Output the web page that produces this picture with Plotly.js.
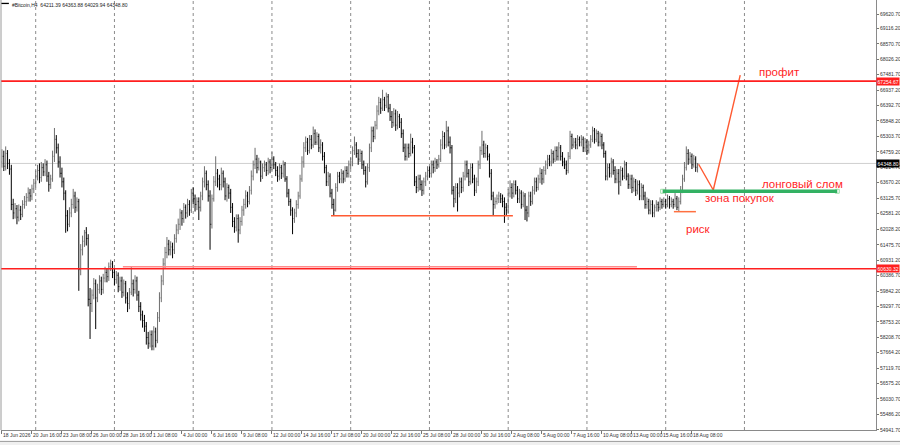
<!DOCTYPE html>
<html>
<head>
<meta charset="utf-8">
<script src="https://cdn.plot.ly/plotly-3.0.1.min.js"></script>
<style>
  html, body { margin: 0; padding: 0; background: #fff; }
  #graph { width: 900px; height: 445px; }
</style>
</head>
<body>
<div id="graph"></div>
<script>
// #Bitcoin H4 bars, 18 Jun 2026 00:00 onward, one bar every 4 hours
const firstBar = Date.UTC(2026, 5, 18, 0, 0);
const firstOpen = 64400;

const close = [
  64600, 64250, 64700, 64350, 64150, 62900, 62600, 62750, 62450, 62700,
  62550, 62900, 63000, 63150, 63300, 63200, 63450, 63650, 63900, 64100,
  63850, 64200, 64050, 64300, 63900, 63600, 63800, 64600, 65200, 64900,
  64400, 64000, 63700, 63300, 62500, 62200, 62600, 62900, 63200, 62800,
  63000, 60600, 61300, 61600, 61900, 61700, 59550, 59400, 59700, 60100,
  59600, 59900, 60200, 59900, 60300, 60500, 60350, 60700, 60800, 60500,
  60250, 60400, 60000, 60200, 59800, 60100, 59600, 59400, 59800, 60100,
  59900, 60200, 59700, 59300, 59000, 58800, 58600, 58200, 58000, 58300,
  57900, 58400, 58100, 58900, 59600, 60200, 60800, 61200, 61500, 61300,
  61400, 61300, 61700, 62000, 62200, 62600, 62400, 62800, 62600, 62900,
  62700, 63300, 63100, 62900, 63000, 62800, 63200, 63700, 64000, 63600,
  63200, 62200, 63100, 63700, 64000, 63800, 63600, 64000, 63700, 63200,
  63500, 63300, 62800, 62300, 62100, 62400, 62000, 62300, 62700, 62900,
  63200, 63000, 63400, 63900, 64300, 64500, 64200, 64400, 63900, 64200,
  64300, 64100, 64400, 64200, 64500, 64300, 64100, 63900, 64200, 64000,
  64300, 63800, 63300, 63000, 62700, 62400, 62600, 62900, 63200, 63800,
  64400, 64900, 65100, 64800, 65200, 65000, 65400, 65100, 65300, 64900,
  65000, 64600, 64200, 63700, 63900, 63300, 62900, 62700, 63500, 63900,
  63800, 64000, 63800, 64100, 64000, 64300, 64400, 64800, 65000, 64700,
  64500, 64700, 64300, 64100, 63700, 64200, 64900, 65500, 65300, 65700,
  66200, 66500, 66300, 66600, 66400, 66700, 66300, 66000, 65800, 66100,
  65700, 66000, 65800, 65400, 64900, 64600, 64900, 64700, 65100, 64900,
  63700, 63500, 63800, 63600, 63400, 63700, 63900, 64100, 64000, 64300,
  64200, 64400, 64300, 64500, 65000, 65300, 65000, 65500, 65100, 64900,
  63400, 63100, 63500, 63300, 63700, 63500, 63900, 64300, 64000, 63700,
  64200, 63800, 63400, 63700, 64300, 64800, 65000, 64700, 64900, 64600,
  64000, 63200, 62900, 63000, 63100, 63200, 63100, 63000, 62800, 62700,
  63300, 63500, 63300, 63600, 63400, 63100, 63300, 62900, 63200, 62700,
  62600, 63200, 63000, 63400, 63700, 63500, 63800, 64000, 63800, 64100,
  64300, 64500, 64400, 64700, 64500, 64800, 64600, 64900, 64600, 64400,
  64300, 64100, 64600, 65300, 65000, 65100, 65000, 65200, 65100, 65200,
  64900, 65100, 64800, 65000, 65200, 65500, 65200, 65400, 65100, 65300,
  65000, 64700, 63900, 64200, 64000, 64400, 64100, 63800, 64000, 63700,
  64100, 63900, 64300, 63900, 63600, 63800, 63500, 63700, 63400, 63600,
  63200, 63500, 63200, 62900, 63000, 62700, 62900, 62600, 62800, 62900,
  62800, 63000, 62900, 63000, 62900, 63100, 62900, 63000, 62900, 63100,
  62800, 63000, 63400, 63800, 64200, 64700, 64500, 64600, 64300, 64500,
  64211.39, 64348.80
];

const high = [
  64850, 64800, 64950, 64820, 64500, 64300, 63100, 62950, 62880, 62900,
  62850, 63050, 63200, 63300, 63500, 63450, 63600, 63800, 64100, 64300,
  64350, 64400, 64350, 64500, 64450, 64050, 63950, 64800, 65600, 65350,
  65050, 64600, 64200, 63850, 63400, 62700, 62800, 63100, 63450, 63350,
  63150, 63100, 61500, 61800, 62000, 62100, 61850, 59950, 59900, 60300,
  60250, 60100, 60400, 60350, 60450, 60700, 60650, 60850, 60950, 60900,
  60650, 60550, 60500, 60350, 60350, 60250, 60200, 59800, 59950, 60700,
  60250, 60400, 60350, 59850, 59450, 59150, 59000, 58750, 58400, 58450,
  58450, 58600, 58550, 59100, 59800, 60400, 61000, 61400, 61750, 61650,
  61600, 61550, 61850, 62200, 62400, 62750, 62700, 62950, 62900, 63100,
  63050, 63450, 63500, 63250, 63150, 63150, 63350, 63850, 64250, 64100,
  63750, 63400, 63250, 63900, 64600, 64150, 63950, 64200, 64100, 63850,
  63650, 63600, 63450, 62950, 62450, 62550, 62550, 62450, 62850, 63100,
  63400, 63350, 63550, 64100, 64450, 64900, 64650, 64550, 64450, 64350,
  64450, 64400, 64550, 64500, 64750, 64600, 64400, 64250, 64350, 64300,
  64450, 64400, 63900, 63450, 63100, 62800, 62750, 63050, 63350, 63950,
  64600, 65100, 65300, 65250, 65350, 65350, 65650, 65550, 65450, 65400,
  65200, 65100, 64750, 64300, 64050, 64000, 63450, 63100, 63650, 64050,
  64050, 64150, 64100, 64250, 64250, 64450, 64550, 64950, 65300, 65100,
  64850, 64850, 64800, 64450, 64250, 64350, 65050, 65650, 65650, 65850,
  66400, 66700, 66650, 66950, 66700, 66850, 66800, 66450, 66200, 66300,
  66250, 66200, 66100, 65950, 65550, 65050, 65050, 65050, 65400, 65250,
  65000, 63900, 63950, 63950, 63750, 63850, 64050, 64250, 64250, 64450,
  64450, 64550, 64500, 64650, 65200, 65500, 65450, 65850, 65650, 65300,
  65000, 63550, 63650, 63650, 63850, 63850, 64050, 64450, 64450, 64150,
  64350, 64350, 63950, 63850, 64450, 64950, 65500, 65150, 65050, 65000,
  64700, 64150, 63350, 63150, 63250, 63350, 63300, 63250, 63150, 62950,
  63450, 63750, 63650, 63750, 63750, 63550, 63450, 63400, 63350, 63300,
  62850, 63350, 63350, 63550, 63850, 63850, 63950, 64200, 64150, 64250,
  64450, 64650, 64650, 64850, 64800, 64950, 64950, 65100, 65000, 64750,
  64550, 64450, 64750, 65500, 65400, 65250, 65250, 65350, 65300, 65350,
  65300, 65250, 65200, 65150, 65350, 65650, 65600, 65550, 65500, 65450,
  65400, 65100, 64800, 64350, 64350, 64550, 64500, 64250, 64150, 64150,
  64250, 64200, 64450, 64400, 64000, 63950, 63950, 63850, 63800, 63750,
  63750, 63650, 63600, 63350, 63150, 63100, 63050, 63050, 62900, 63050,
  63000, 63150, 63100, 63150, 63100, 63250, 63200, 63150, 63100, 63300,
  63200, 63150, 63550, 63950, 64400, 64950, 64850, 64750, 64700, 64650,
  64600, 64363.88
];

const low = [
  64200, 64080, 64100, 64150, 63950, 62700, 62380, 62400, 62200, 62300,
  62350, 62450, 62750, 62850, 63000, 63000, 63050, 63300, 63500, 63750,
  63650, 63700, 63900, 63900, 63700, 63350, 63450, 63700, 64400, 64700,
  64200, 63850, 63500, 63050, 61900, 61950, 62100, 62450, 62750, 62600,
  62650, 59850, 60400, 61100, 61400, 61450, 59300, 58150, 59100, 59550,
  58500, 59450, 59750, 59700, 59750, 60150, 60150, 60200, 60550, 60300,
  60050, 60100, 59800, 59850, 59600, 59650, 59400, 59100, 59200, 59700,
  59650, 59750, 59500, 59100, 58800, 58550, 58400, 57950, 57800, 57850,
  57750, 57750, 57850, 58000, 58750, 59450, 60050, 60650, 61000, 61100,
  61100, 61000, 61150, 61550, 61850, 62000, 62150, 62250, 62400, 62450,
  62500, 62600, 62900, 62650, 62700, 62350, 62650, 63050, 63500, 63400,
  63000, 61300, 62050, 63000, 63550, 63500, 63400, 63400, 63500, 63050,
  63000, 63100, 62600, 62100, 61900, 61950, 61550, 61850, 62150, 62500,
  62750, 62800, 62900, 63250, 63750, 64150, 64000, 64100, 63700, 63800,
  64050, 63900, 63950, 64000, 64100, 64150, 63900, 63700, 63750, 63800,
  63850, 63700, 63150, 62850, 62500, 61850, 62250, 62450, 62750, 63100,
  63700, 64200, 64750, 64650, 64700, 64850, 64900, 65000, 65000, 64750,
  64700, 64450, 64000, 63550, 63550, 63150, 62750, 62500, 62650, 63350,
  63650, 63650, 63650, 63700, 63850, 63850, 64150, 64250, 64650, 64550,
  64300, 64400, 64150, 63950, 63500, 63600, 64050, 64750, 65100, 65200,
  65550, 66050, 66100, 66200, 66200, 66300, 66150, 65850, 65600, 65650,
  65500, 65550, 65600, 65250, 64750, 64450, 64450, 64550, 64600, 64700,
  63550, 63300, 63350, 63400, 63200, 63250, 63550, 63750, 63850, 63850,
  64000, 64050, 64150, 64200, 64400, 64850, 64850, 64900, 64950, 64700,
  63250, 62800, 62950, 62650, 63150, 63300, 63350, 63750, 63850, 63550,
  63600, 63650, 63200, 63300, 63550, 64150, 64650, 64550, 64550, 64450,
  63850, 63050, 62500, 62750, 62900, 62950, 62950, 62800, 62250, 62500,
  62600, 63150, 63100, 63150, 63250, 62950, 62950, 62750, 62800, 62350,
  62300, 62450, 62850, 62900, 63250, 63350, 63400, 63650, 63600, 63650,
  63950, 64150, 64250, 64250, 64350, 64400, 64450, 64450, 64450, 64250,
  64150, 63950, 64000, 64500, 64850, 64900, 64850, 64850, 64950, 64950,
  64750, 64750, 64650, 64700, 64900, 65100, 65050, 65100, 64950, 64950,
  64850, 64550, 63750, 63750, 63850, 63850, 63950, 63650, 63650, 63250,
  63550, 63750, 63800, 63750, 63450, 63450, 63300, 63350, 63200, 63250,
  63050, 63050, 63050, 62750, 62750, 62550, 62550, 62450, 62450, 62650,
  62650, 62700, 62750, 62800, 62750, 62800, 62750, 62800, 62750, 62800,
  62700, 62660, 62900, 63300, 63700, 64100, 64300, 64350, 64150, 64200,
  64050, 64029.94
];

// price scale labels on the right
const priceTicks = [
  69620.70, 69116.20, 68570.70, 68026.20, 67481.70, 66937.20, 66392.70,
  65848.20, 65303.70, 64759.20, 64214.70, 63670.20, 63125.70, 62581.20,
  62028.20, 61475.70, 60931.20, 60386.70, 59842.20, 59297.70, 58753.20,
  58208.70, 57664.20, 57119.70, 56575.20, 56030.70, 55486.20, 54941.70
];

// time scale labels
const dateTicks = [
  '2026-06-18 00:00', '2026-06-20 16:00', '2026-06-23 08:00', '2026-06-26 00:00',
  '2026-06-28 16:00', '2026-07-01 08:00', '2026-07-04 00:00', '2026-07-06 16:00',
  '2026-07-09 08:00', '2026-07-12 00:00', '2026-07-14 16:00', '2026-07-17 08:00',
  '2026-07-20 00:00', '2026-07-22 16:00', '2026-07-25 08:00', '2026-07-28 00:00',
  '2026-07-30 16:00', '2026-08-02 08:00', '2026-08-05 00:00', '2026-08-07 16:00',
  '2026-08-10 08:00', '2026-08-13 00:00', '2026-08-15 16:00', '2026-08-18 08:00'
];
const dateLabels = [
  '18 Jun 2026', '20 Jun 16:00', '23 Jun 08:00', '26 Jun 00:00',
  '28 Jun 16:00', '1 Jul 08:00', '4 Jul 00:00', '6 Jul 16:00',
  '9 Jul 08:00', '12 Jul 00:00', '14 Jul 16:00', '17 Jul 08:00',
  '20 Jul 00:00', '22 Jul 16:00', '25 Jul 08:00', '28 Jul 00:00',
  '30 Jul 16:00', '2 Aug 08:00', '5 Aug 00:00', '7 Aug 16:00',
  '10 Aug 08:00', '13 Aug 00:00', '15 Aug 16:00', '18 Aug 08:00'
];

// weekly separators (dotted)
const gridDays = [
  '2026-06-21', '2026-06-28', '2026-07-05', '2026-07-12', '2026-07-19',
  '2026-07-26', '2026-08-02', '2026-08-09', '2026-08-16', '2026-08-23'
];

// drawn levels and notes
const redLevels = [67254.67, 60630.32];
const lastPrice = 64348.80;
const supportLevel = 62500;
const riskLevel = 62645;
const buyZone = 63365;
const projX = ['2026-08-18 22:15', '2026-08-20 05:30', '2026-08-22 15:00'];
const projY = [64320, 63410, 67470];

function fmt(ms) {
  return new Date(ms).toISOString().slice(0, 16).replace('T', ' ');
}

const times = close.map((_, i) => fmt(firstBar + i * 4 * 3600e3));
const open = [firstOpen].concat(close.slice(0, -1));

const red = '#ff1f1f';
const orange = '#ff5a32';

const shapes = [];
gridDays.forEach((d) => {
  shapes.push({
    type: 'line', xref: 'x', yref: 'paper', x0: d, x1: d, y0: 0, y1: 1,
    line: { color: '#8c8c8c', width: 1, dash: 'dot' }, layer: 'below'
  });
});
shapes.push({
  type: 'line', xref: 'paper', yref: 'y', x0: 0, x1: 1, y0: lastPrice, y1: lastPrice,
  line: { color: '#cfcfcf', width: 1 }, layer: 'below'
});
redLevels.forEach((v) => {
  shapes.push({
    type: 'line', xref: 'paper', yref: 'y', x0: 0, x1: 1, y0: v, y1: v,
    line: { color: red, width: 1.6 }
  });
});
// faint second level drawn just above the lower red line
shapes.push({
  type: 'line', xref: 'x', yref: 'y', x0: '2026-06-28 18:00', x1: '2026-08-13 10:40',
  y0: 60700, y1: 60700, line: { color: '#ff8a8a', width: 1.3 }
});
shapes.push({
  type: 'line', xref: 'x', yref: 'y', x0: '2026-07-17 06:00', x1: '2026-08-02 10:00',
  y0: supportLevel, y1: supportLevel, line: { color: orange, width: 1.5 }
});
shapes.push({
  type: 'line', xref: 'x', yref: 'y', x0: '2026-08-16 17:30', x1: '2026-08-18 16:30',
  y0: riskLevel, y1: riskLevel, line: { color: '#ff7040', width: 1.5 }
});
shapes.push({
  type: 'line', xref: 'x', yref: 'y', x0: '2026-08-15 17:30', x1: '2026-08-31 06:00',
  y0: buyZone, y1: buyZone, line: { color: '#33b163', width: 3.5 }
});
// left border and bottom strip
shapes.push({
  type: 'line', xref: 'paper', yref: 'paper', x0: 0, x1: 0, y0: 0, y1: 1,
  line: { color: '#9a9a9a', width: 1 }
});
shapes.push({
  type: 'rect', xref: 'paper', yref: 'paper', x0: -0.01, x1: 1.03, y0: -0.0265, y1: -0.05,
  fillcolor: '#f0f0f0', line: { color: '#9a9a9a', width: 1 }
});
shapes.push({
  type: 'rect', xref: 'paper', yref: 'paper', x0: 0.0005, x1: 0.009, y0: 0.9905, y1: 0.9935,
  fillcolor: '#000', line: { width: 0 }
});

const noteFont = { family: 'Liberation Sans, Arial, sans-serif', size: 11.5, color: red };
const axisLabel = (v, bg) => ({
  xref: 'paper', x: 1.0, xanchor: 'left', yref: 'y', y: v, yanchor: 'middle',
  text: v.toFixed(2), showarrow: false, bgcolor: bg, borderpad: 0.6,
  font: { family: 'Liberation Sans, Arial, sans-serif', size: 5, color: '#fff' }
});

const annotations = [
  {
    xref: 'paper', yref: 'paper', x: 0.0105, y: 0.999, xanchor: 'left', yanchor: 'top',
    text: '#Bitcoin,H4  64211.39 64363.88 64029.94 64348.80', showarrow: false,
    font: { family: 'Liberation Sans, Arial, sans-serif', size: 5, color: '#222' }
  },
  { x: '2026-08-24 02:40', y: 67577, xanchor: 'left', text: 'профит', showarrow: false, font: noteFont },
  { x: '2026-08-24 09:00', y: 63621, xanchor: 'left', text: 'лонговый слом', showarrow: false, font: noteFont },
  { x: '2026-08-19 07:30', y: 63127, xanchor: 'left', text: 'зона покупок', showarrow: false, font: noteFont },
  { x: '2026-08-17 15:00', y: 62032, xanchor: 'left', text: 'риск', showarrow: false, font: noteFont },
  axisLabel(redLevels[0], red),
  axisLabel(redLevels[1], red),
  axisLabel(lastPrice, '#000')
];

const traces = [
  {
    type: 'ohlc',
    x: times,
    open: open,
    high: high,
    low: low,
    close: close,
    increasing: { line: { color: '#6e6e6e', width: 1 } },
    decreasing: { line: { color: '#000000', width: 1 } },
    tickwidth: 0.35,
    hoverinfo: 'skip',
    showlegend: false
  },
  {
    type: 'scatter',
    mode: 'lines',
    x: projX,
    y: projY,
    line: { color: orange, width: 1.4 },
    hoverinfo: 'skip',
    showlegend: false
  },
  {
    type: 'scatter',
    mode: 'markers',
    x: ['2026-08-15 17:30', '2026-08-31 06:00'],
    y: [buyZone, buyZone],
    marker: { symbol: 'square-open', size: 4, color: '#9ee0a8', line: { width: 1 } },
    hoverinfo: 'skip',
    showlegend: false
  }
];

const layout = {
  width: 900,
  height: 445,
  margin: { l: 1, r: 24, t: 0, b: 15 },
  paper_bgcolor: '#fff',
  plot_bgcolor: '#fff',
  showlegend: false,
  font: { family: 'Liberation Sans, Arial, sans-serif', size: 5, color: '#333' },
  xaxis: {
    type: 'date',
    range: ['2026-06-17 22:00', '2026-09-03 16:40'],
    rangeslider: { visible: false },
    tickmode: 'array',
    tickvals: dateTicks,
    ticktext: dateLabels,
    tickangle: 0,
    ticklabelposition: 'outside right',
    ticks: 'outside',
    ticklen: 3,
    tickcolor: '#777',
    tickfont: { size: 5, color: '#333' },
    showline: true,
    linecolor: '#8a8a8a',
    linewidth: 1,
    showgrid: false,
    zeroline: false,
    fixedrange: true
  },
  yaxis: {
    side: 'right',
    range: [54935, 70120],
    tickmode: 'array',
    tickvals: priceTicks,
    ticktext: priceTicks.map((v) => v.toFixed(2)),
    ticks: 'outside',
    ticklen: 2,
    tickcolor: '#777',
    tickfont: { size: 5, color: '#333' },
    showline: true,
    linecolor: '#8a8a8a',
    linewidth: 1,
    showgrid: false,
    zeroline: false,
    fixedrange: true
  },
  shapes: shapes,
  annotations: annotations
};

Plotly.newPlot('graph', traces, layout, { displayModeBar: false, staticPlot: true });
</script>
</body>
</html>
